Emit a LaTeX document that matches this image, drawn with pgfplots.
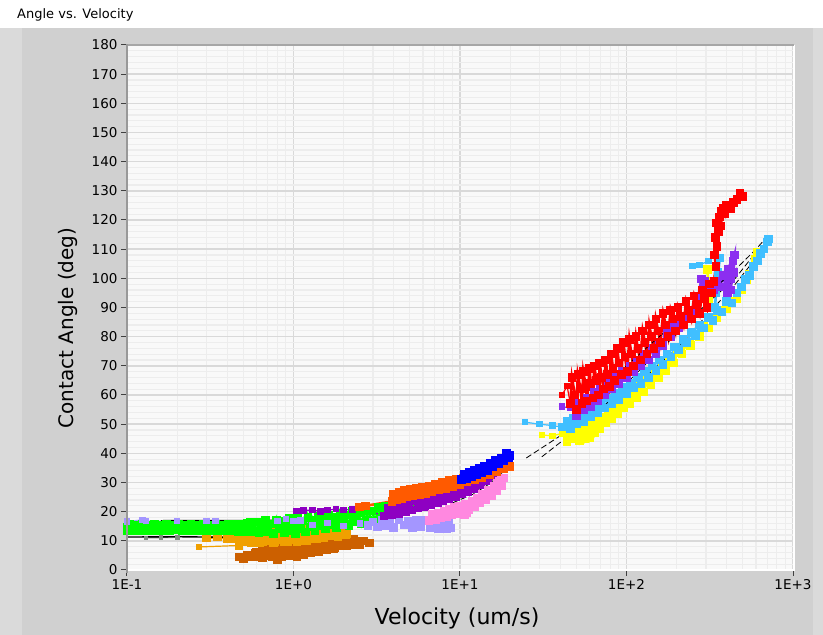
\documentclass[border=0pt]{standalone}
\usepackage{fontspec}
\setmainfont{DejaVu Sans}
\usepackage{pgfplots}
\pgfplotsset{compat=1.18}

\definecolor{panel}{HTML}{D0D0D0}
\definecolor{bevel}{HTML}{DADADA}
\definecolor{plotbg}{HTML}{F9F9F9}
\definecolor{majgrid}{HTML}{D9D9D9}
\definecolor{mingrid}{HTML}{EDEDED}
\definecolor{cred}{HTML}{FF0000}
\definecolor{csky}{HTML}{40BFFF}
\definecolor{cyel}{HTML}{FFFF00}
\definecolor{cviol}{HTML}{8C2EF0}
\definecolor{cpurp}{HTML}{8E00C2}
\definecolor{cblue}{HTML}{0000FF}
\definecolor{corr}{HTML}{FF5A00}
\definecolor{cpink}{HTML}{FF88E0}
\definecolor{clav}{HTML}{A496FF}
\definecolor{cgreen}{HTML}{00FF00}
\definecolor{camber}{HTML}{F0A000}
\definecolor{cbrown}{HTML}{CC6000}
\definecolor{cgray}{HTML}{7F8F7F}

\newcommand\tickfont{\fontsize{13.5}{16}\selectfont}
\pgfplotsset{
  dots/.style={mark=square*, mark size=3pt, line width=2.6pt, mark options={solid}},
  thin dots/.style={mark=square*, mark size=2.6pt, line width=1.2pt, mark options={solid}},
  fit/.style={black, line width=0.8pt, dash pattern=on 6pt off 3pt, no marks},
}

\begin{document}
\begin{tikzpicture}
\begin{scope}[x=1pt,y=1pt]
\useasboundingbox (0,0) rectangle (823,635);
\fill[white] (0,0) rectangle (823,635);
\fill[panel] (0,0) rectangle (823,607);
\fill[bevel] (0,0) rectangle (22,607);
\fill[bevel] (813,0) rectangle (823,607);
\node[anchor=west, inner sep=0pt, font=\fontsize{13}{15}\selectfont] at (17,620) {Angle vs. Velocity};
\end{scope}

\begin{axis}[
  at={(127pt,65pt)}, anchor=south west,
  scale only axis, width=666pt, height=525pt,
  xmode=log, xmin=0.1, xmax=1000, ymin=0, ymax=180,
  xtick={0.1,1,10,100,1000},
  xticklabels={1E-1,1E+0,1E+1,1E+2,1E+3},
  minor xtick={0.2,0.3,0.4,0.5,0.6,0.7,0.8,0.9,2,3,4,5,6,7,8,9,20,30,40,50,60,70,80,90,200,300,400,500,600,700,800,900},
  ytick={0,10,...,180}, minor y tick num=4,
  grid=both,
  major grid style={majgrid, line width=1.6pt},
  minor grid style={mingrid, line width=1.2pt},
  axis background/.style={fill=plotbg},
  axis line style={draw=none},
  tick align=outside, major tick length=6pt, minor tick length=0pt,
  tick style={black!75, line width=1pt},
  xtick pos=bottom, ytick pos=left,
  ticklabel style={font=\tickfont},
  /pgf/number format/assume math mode=true,
  clip=true,
]
% low velocity group
\addplot[dots, cbrown] coordinates {(0.47,4.5) (0.5,4.0) (0.53,5.0) (0.56,4.4) (0.59,5.8) (0.62,4.6) (0.65,6.6) (0.68,5.2) (0.71,7.2) (0.74,5.0) (0.77,6.4) (0.8,3.5) (0.83,6.0) (0.86,4.8) (0.9,7.4) (0.94,5.4) (0.98,8.0) (1.02,5.8) (1.07,8.4) (1.12,6.2) (1.17,8.0) (1.22,6.0) (1.28,8.6) (1.34,6.6) (1.4,9.0) (1.46,7.0) (1.53,9.4) (1.6,7.4) (1.68,10.0) (1.76,7.8) (1.85,10.6) (1.95,8.2) (2.05,9.6) (2.2,8.6) (2.35,9.8) (2.5,8.8) (2.65,9.9) (2.86,9.3)};
\addplot[dots, cbrown] coordinates {(0.6,6.0) (0.65,4.2) (0.7,6.8) (0.75,4.4) (0.8,7.6) (0.85,4.6) (0.9,8.2) (0.95,4.8) (1.0,7.0) (1.05,4.4) (1.1,9.0) (1.15,5.4) (1.2,9.4) (1.27,5.8) (1.34,9.8) (1.42,6.4) (1.5,10.2) (1.58,6.8) (1.66,10.4) (1.75,7.2) (1.85,9.0) (1.95,10.8) (2.1,8.4) (2.3,10.4)};
\addplot[thin dots, camber] coordinates {(0.27,7.9) (0.47,8.4)};
\addplot[dots, camber] coordinates {(0.47,8.4) (0.5,10.5) (0.53,12.2) (0.56,9.4) (0.59,11.8) (0.62,13.0) (0.65,9.8) (0.68,12.4) (0.71,10.2) (0.74,13.2) (0.77,9.6) (0.8,12.0) (0.84,10.4) (0.88,13.4) (0.92,9.8) (0.96,12.2) (1.0,10.6) (1.05,13.4) (1.1,10.2) (1.15,12.6) (1.2,11.0) (1.26,13.6) (1.32,10.8) (1.4,12.8) (1.48,11.4) (1.56,13.4) (1.65,11.6) (1.75,13.0) (1.85,12.0) (1.95,13.2) (2.08,12.5)};
\addplot[dots, camber] coordinates {(0.3,11.0) (0.35,11.3) (0.4,10.8) (0.45,10.6) (0.48,12.8) (0.51,9.6) (0.54,13.4) (0.57,10.2) (0.6,12.6) (0.63,9.2) (0.66,13.6) (0.69,10.8) (0.72,12.2) (0.76,9.4) (0.8,13.8) (0.84,11.0) (0.88,9.6) (0.92,12.8) (0.96,10.4) (1.0,13.8) (1.05,9.8) (1.1,12.0) (1.15,14.0) (1.2,10.0) (1.26,12.4) (1.32,14.2) (1.38,10.8) (1.45,13.2) (1.52,11.2) (1.6,14.0) (1.68,11.6) (1.76,13.4) (1.85,11.4) (1.95,13.8) (2.05,12.2)};
\addplot[thin dots, cgray, mark size=1.8pt] coordinates {(0.13,11.0) (0.16,11.1) (0.2,11.2)};
\addplot[dots, cgreen] coordinates {(0.1,13.6) (0.104,15.6) (0.108,13.4) (0.113,15.4) (0.118,13.6) (0.123,15.6) (0.128,13.4) (0.134,15.2) (0.14,13.6) (0.146,15.6) (0.152,13.4) (0.159,15.4) (0.166,13.6) (0.173,15.6) (0.18,13.4) (0.188,15.2) (0.196,13.8) (0.205,15.6) (0.214,13.4) (0.223,15.4) (0.233,13.5) (0.243,15.6) (0.254,13.6) (0.265,15.4) (0.277,13.4) (0.289,15.6) (0.302,13.6) (0.315,15.4) (0.329,13.4) (0.343,15.6) (0.358,13.6) (0.374,15.4) (0.39,13.4) (0.407,15.6) (0.425,13.6) (0.444,15.6) (0.463,13.2) (0.483,15.8) (0.504,13.2) (0.526,16.0) (0.55,13.0)};
\addplot[dots, cgreen] coordinates {(0.100,14.8) (0.103,14.0) (0.106,15.0) (0.109,14.2) (0.112,14.8) (0.116,14.0) (0.12,15.0) (0.125,14.4) (0.13,14.8) (0.14,14.2) (0.16,14.8) (0.2,14.4) (0.25,14.8) (0.32,14.2) (0.38,14.9) (0.43,14.2) (0.47,14.6) (0.5,15.5) (0.52,13.2) (0.55,16.2) (0.57,13.4) (0.6,16.5) (0.62,12.8) (0.65,15.2) (0.68,17.0) (0.7,13.2) (0.73,15.8) (0.76,12.6) (0.79,17.2) (0.82,14.0) (0.85,16.6) (0.88,12.8) (0.91,15.5) (0.94,17.6) (0.97,13.5) (1.0,16.5) (1.03,12.6) (1.06,17.8) (1.1,14.2) (1.14,16.8) (1.18,13.0) (1.22,18.0) (1.26,14.8) (1.3,17.2) (1.35,13.6) (1.4,18.4) (1.45,15.2) (1.5,17.5) (1.56,14.0) (1.62,18.8) (1.68,15.4) (1.75,18.0) (1.82,14.6) (1.9,19.4) (1.98,16.0) (2.06,18.8) (2.15,15.2) (2.25,20.0) (2.35,16.6) (2.45,19.5) (2.55,15.8) (2.7,20.6) (2.8,17.2) (2.95,20.2) (3.1,16.8) (3.25,21.4) (3.4,18.0) (3.55,21.8) (3.7,18.5) (3.9,22.6) (4.05,19.4) (4.25,23.2) (4.45,20.2) (4.65,24.0) (4.8,24.6) (4.9,21.2) (5.0,23.0)};
\addplot[thin dots, clav] coordinates {(0.1,16.6) (0.124,17.2) (0.13,16.7) (0.2,16.8) (0.3,16.9) (0.34,16.7) (0.8,16.9) (0.9,17.4) (1.0,16.8) (1.1,17.0) (1.3,15.5) (1.6,16.2) (2.0,15.0) (2.5,16.0) (2.8,15.2)};
\addplot[dots, clav] coordinates {(2.8,15.2) (3.0,16.4) (3.2,14.8) (3.4,17.0) (3.6,15.2) (3.8,16.6) (4.0,14.6) (4.3,17.2) (4.6,15.4) (4.9,16.8) (5.2,14.4) (5.5,16.9) (5.8,15.0) (6.2,17.0) (6.6,14.5) (7.0,16.5) (7.4,14.2) (7.8,16.3) (8.2,14.8) (8.6,16.4) (8.8,14.4) (8.3,14.0)};
\addplot[thin dots, cpurp] coordinates {(1.04,20.2) (1.15,20.4) (1.3,20.6) (1.45,20.0) (1.6,20.5) (1.8,20.9) (2.0,20.6) (2.26,20.8) (2.5,21.4) (3.5,18.5)};
\addplot[dots, cpurp] coordinates {(3.5,18.5) (3.7,21.0) (3.9,18.8) (4.1,21.8) (4.3,19.4) (4.5,22.4) (4.7,20.0) (4.9,23.2) (5.1,20.6) (5.35,23.8) (5.6,21.2) (5.85,24.6) (6.1,21.8) (6.4,25.2) (6.7,22.4) (7.0,25.8) (7.3,23.0) (7.6,26.4) (7.9,23.6) (8.2,27.0) (8.6,24.4) (9.0,27.8) (9.4,25.2) (9.8,28.6) (10.2,26.0) (10.7,29.6) (11.2,27.0) (11.7,30.4) (12.2,28.0) (12.8,31.2) (13.4,29.4) (14.0,32.0) (14.7,30.6) (15.3,33.0) (16.0,32.2)};
\addplot[dots, cpink] coordinates {(6.5,17.0) (6.8,19.0) (7.1,17.4) (7.4,19.6) (7.7,17.8) (8.0,20.2) (8.3,18.2) (8.6,20.8) (8.9,18.8) (9.2,21.4) (9.5,19.4) (9.9,22.0) (10.3,20.0) (10.6,19.0) (11.0,19.5) (10.8,22.6) (11.3,20.8) (11.8,23.6) (12.2,21.8) (12.7,24.6) (13.2,23.0) (13.7,25.8) (14.2,24.2) (14.8,27.2) (15.4,25.6) (16.0,28.6) (16.6,27.2) (17.2,30.4) (17.8,29.0) (18.2,31.6) (17.6,31.0) (16.8,29.8)};
\addplot[dots, corr] coordinates {(2.5,21.6) (2.7,22.0) (3.9,23.5) (4.0,26.0) (4.15,24.0) (4.3,26.8) (4.45,24.6) (4.6,27.2) (4.8,25.0) (5.0,27.6) (5.2,25.4) (5.45,28.0) (5.7,25.8) (5.95,28.4) (6.2,26.2) (6.5,28.8) (6.8,26.8) (7.1,29.4) (7.4,27.4) (7.8,30.0) (8.2,28.0) (8.6,30.6) (9.0,28.6) (9.5,31.2) (10.0,29.4) (10.5,31.6) (11.0,30.2) (11.6,32.4) (12.2,31.0) (12.8,33.2) (13.5,31.8) (14.2,34.0) (15.0,32.8) (15.8,35.0) (16.6,33.6) (17.4,36.0) (18.2,34.6) (19.0,36.6) (19.8,35.5)};
\addplot[dots, cblue] coordinates {(10.2,31.0) (10.6,32.8) (11.0,31.4) (11.4,33.6) (11.8,32.0) (12.2,34.2) (12.6,32.6) (13.0,34.8) (13.5,33.4) (14.0,35.6) (14.6,34.2) (15.2,36.6) (15.8,35.4) (16.4,37.6) (17.0,36.4) (17.6,38.4) (18.2,37.4) (19.0,40.0) (19.6,38.6) (20.0,39.2)};
\addplot[black, line width=1.4pt, no marks] coordinates {(0.1,11.3) (0.2,11.4) (0.45,11.2)};
\addplot[black, line width=1.4pt, no marks] coordinates {(0.16,16.9) (0.6,17.0) (1.1,17.0)};
\addplot[fit, line width=1.4pt, dash pattern=on 9pt off 5pt] coordinates {(0.108,14.7) (0.3,14.7) (0.54,14.7)};
\addplot[fit] coordinates {(7.9,23.3) (10,25.5) (13,28.5) (16,32) (19.8,36.6)};
\addplot[fit] coordinates {(9,23) (12,26) (15,29.5) (18,33.5) (20,35.5)};
% high velocity group
\addplot[thin dots, cyel] coordinates {(31,46.3) (36,46) (42,47)};
\addplot[dots, cyel] coordinates {(42,47) (44,44) (46,48) (48,45) (50,49) (52,44.5) (54,48) (56,45) (58,49) (60,45.5) (62,49.5) (64,47) (66,51) (69,48.5) (72,52.5) (75,50.5) (78,54) (81,52) (84,55.5) (88,53.5) (92,57) (96,55.5) (100,59) (105,57) (110,61) (115,59) (121,63) (127,61) (133,65) (140,63.5) (148,67) (156,66) (164,69.5) (173,68.5) (182,72) (192,71) (202,74.5) (215,74) (228,77.5) (242,77) (258,80.5) (275,80) (292,83.5) (310,83) (330,86) (350,86.5) (375,89) (400,89.5) (430,92) (460,93) (490,96) (525,99.4) (550,101.5) (575,104) (595,106.5) (612,109)};
\addplot[dots, cyel] coordinates {(312,92) (315,96) (310,99) (306,103)};
\addplot[thin dots, csky] coordinates {(24.5,50.7) (30,50) (36,49.5) (41,49)};
\addplot[dots, csky] coordinates {(41,49) (44,51) (46,48.5) (48,52) (50,50) (52,53) (55,51) (58,54.5) (61,52.5) (64,56) (67,54) (70,57.5) (74,55.5) (78,59) (82,57) (86,60.5) (90,58.5) (95,62.5) (100,60.5) (105,64) (110,62.5) (116,66) (122,64) (128,68) (135,66) (142,70) (150,68.5) (158,72) (166,70.5) (175,74) (185,73) (195,76.5) (205,75.5) (218,79) (230,78) (245,81.5) (260,80.5) (275,84) (290,83) (310,86.5) (330,85.5) (350,89) (375,88.5) (400,92) (430,91.5) (460,95) (490,97) (520,99.5) (550,101) (580,104) (610,106) (640,108.5) (670,110) (700,112.5) (713,113.5)};
\addplot[thin dots, csky] coordinates {(249,104.2) (275,104.5) (310,106) (340,108) (364,107)};
\addplot[dots, csky] coordinates {(364,107) (355,102) (345,95) (340,90)};
\addplot[thin dots, cviol] coordinates {(41,56) (46,55.5) (50,53)};
\addplot[dots, cviol] coordinates {(50,53) (52,57) (55,55) (58,59) (61,56) (64,61) (67,58) (70,62) (74,60) (78,64) (82,62) (86,66) (90,64) (95,68) (100,66) (105,70) (110,68) (116,72) (122,70) (128,74) (135,72) (142,76) (150,74) (158,78) (166,77) (175,81) (185,80) (195,84) (205,83) (218,86) (230,86) (245,89) (260,89) (282,99.8) (295,99) (290,94) (305,95) (320,97) (335,96) (350,99) (365,97) (380,101) (395,97) (410,103) (425,100) (435,106) (445,108) (440,102) (420,96) (405,95)};
\addplot[thin dots, cred] coordinates {(41,60) (44,63) (46,57)};
\addplot[dots, cred] coordinates {(46,57) (47,66) (49,60) (50,55) (51,67) (53,62) (54,57) (55,68) (57,63) (58,58) (60,69) (61,64) (63,59) (64,70) (66,65) (68,60) (69,71) (71,66) (73,62) (75,72) (77,67) (79,63) (81,74) (83,69) (85,65) (88,76) (90,71) (93,67) (96,78) (98,73) (101,68) (104,79) (107,74) (110,70) (114,80) (117,76) (121,72) (125,82) (129,78) (133,74) (137,84) (141,80) (146,76) (150,86) (155,82) (160,78) (166,88) (172,84) (178,80) (184,89) (190,86) (197,82) (204,90) (212,87) (220,84) (228,92) (236,89) (245,86) (255,94) (265,91) (275,88) (285,96) (295,93) (305,90) (315,98) (325,95) (335,99) (345,104) (338,108) (350,111) (342,114) (356,116) (348,119) (362,121) (372,123) (368,118) (380,124) (390,122) (400,125) (420,124) (440,126) (460,127) (480,129) (500,128)};
\addplot[fit] coordinates {(25,38.4) (40,46) (60,55) (100,70) (150,79) (200,85) (300,94) (450,103) (600,110) (656,112.5)};
\addplot[fit] coordinates {(31,38.8) (45,46) (70,55) (100,64) (150,74) (200,81) (300,91) (450,100) (620,110)};
\addplot[fit] coordinates {(42,43.5) (60,49) (87,57) (130,66) (200,76) (300,87) (450,98) (600,107)};
\end{axis}

\begin{scope}[x=1pt,y=1pt]
\draw[white, line width=1.5pt] (127,65) -- (794,65) -- (794,590);
\draw[black!35, line width=1.5pt] (127,590) -- (794,590);
\draw[black!40, line width=2pt] (127,62) -- (127,591);
\node[font=\fontsize{22}{26}\selectfont] at (457,17) {Velocity (um/s)};
\node[rotate=90, font=\fontsize{20}{24}\selectfont] at (68,307) {Contact Angle (deg)};
\end{scope}
\end{tikzpicture}
\end{document}
